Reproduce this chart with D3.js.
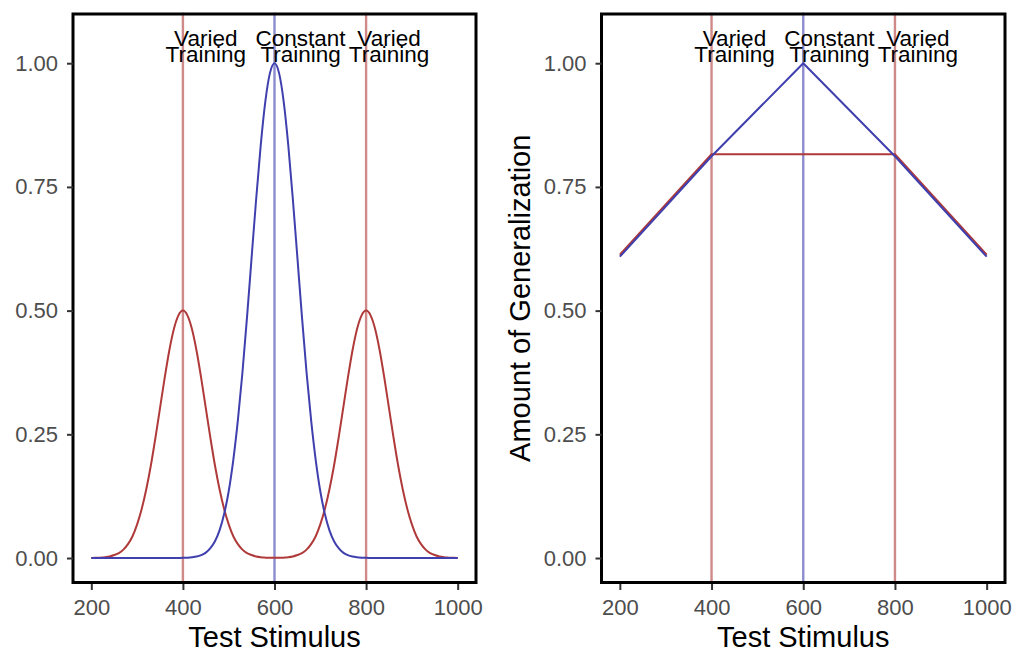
<!DOCTYPE html>
<html>
<head>
<meta charset="utf-8">
<script src="https://cdn.jsdelivr.net/npm/d3@7"></script>
<style>
  html, body { margin: 0; padding: 0; background: #ffffff; }
  svg { display: block; font-family: "Liberation Sans", Arial, Helvetica, sans-serif; }
</style>
</head>
<body>
<svg id="chart" width="1014" height="651"></svg>
<script>
// ---------- data ----------
// Left panel: sampled generalization gradients (test stimulus 200..1000, step 10)
const gradientStimulus = [
  200,210,220,230,240,250,260,270,280,290,300,310,320,330,340,350,360,370,380,390,
  400,410,420,430,440,450,460,470,480,490,500,510,520,530,540,550,560,570,580,590,
  600,610,620,630,640,650,660,670,680,690,700,710,720,730,740,750,760,770,780,790,
  800,810,820,830,840,850,860,870,880,890,900,910,920,930,940,950,960,970,980,990,1000
];
const constantGradient = [
  0,0,0,0,0,0,0,0,0,0,0,0,0,0,0,0,0,0,0.0001,0.0002,
  0.0003,0.0007,0.0015,0.003,0.006,0.011,0.020,0.034,0.056,0.089,0.135,0.198,0.278,0.375,0.487,0.607,0.726,0.835,0.923,0.980,
  1.000,0.980,0.923,0.835,0.726,0.607,0.487,0.375,0.278,0.198,0.135,0.089,0.056,0.034,0.020,0.011,0.006,0.003,0.0015,0.0007,
  0.0003,0.0002,0.0001,0,0,0,0,0,0,0,0,0,0,0,0,0,0,0,0,0,0
];
const variedGradient = [
  0.0002,0.0004,0.0008,0.0015,0.003,0.006,0.010,0.017,0.028,0.044,0.068,0.099,0.139,0.187,0.243,0.303,0.363,0.418,0.462,0.490,
  0.500,0.490,0.462,0.418,0.363,0.303,0.243,0.187,0.139,0.099,0.068,0.044,0.028,0.017,0.010,0.006,0.003,0.0015,0.0008,0.0004,
  0.0003,0.0004,0.0008,0.0015,0.003,0.006,0.010,0.017,0.028,0.044,0.068,0.099,0.139,0.187,0.243,0.303,0.363,0.418,0.462,0.490,
  0.500,0.490,0.462,0.418,0.363,0.303,0.243,0.187,0.139,0.099,0.068,0.044,0.028,0.017,0.010,0.006,0.003,0.0015,0.0008,0.0004,0.0002
];
// Right panel: generalization at the five test stimuli
const testStimulus = [200, 400, 600, 800, 1000];
const constantGeneralization = [0.609, 0.812, 1.0, 0.812, 0.609];
const variedGeneralization   = [0.613, 0.816, 0.816, 0.816, 0.613];

// Training locations and labels
const variedTraining = [400, 800];
const constantTraining = [600];
const trainingLabels = [
  { x: 450, lines: ["Varied", "Training"] },
  { x: 657, lines: ["Constant", "Training"] },
  { x: 850, lines: ["Varied", "Training"] }
];

const xTicks = [200, 400, 600, 800, 1000];
const xTickLabels = ["200", "400", "600", "800", "1000"];
const yTicks = [0, 0.25, 0.5, 0.75, 1.0];
const yTickLabels = ["0.00", "0.25", "0.50", "0.75", "1.00"];
const xTitle = "Test Stimulus";
const yTitle = "Amount of Generalization";

// ---------- drawing ----------
const RED = "#b03a3a";
const BLUE = "#3f3fae";
const svg = d3.select("#chart");

const panels = [
  { left: 73, right: 476, series: [
      { x: gradientStimulus, y: variedGradient, color: RED },
      { x: gradientStimulus, y: constantGradient, color: BLUE } ],
    curve: d3.curveMonotoneX, yTitle: false },
  { left: 601.5, right: 1005, series: [
      { x: testStimulus, y: variedGeneralization, color: RED },
      { x: testStimulus, y: constantGeneralization, color: BLUE } ],
    curve: d3.curveLinear, yTitle: true }
];

const panelTop = 12.5, panelBottom = 584;
const TICK_FONT = 22, TITLE_FONT = 29, LABEL_FONT = 22.5;

panels.forEach(p => {
  const x = d3.scaleLinear().domain([160, 1040]).range([p.left, p.right]);
  const y = d3.scaleLinear().domain([-0.0525, 1.1025]).range([panelBottom, panelTop]);
  const g = svg.append("g");

  const clipId = "clip" + Math.round(p.left);
  svg.append("clipPath").attr("id", clipId)
    .append("rect").attr("x", p.left).attr("y", panelTop)
    .attr("width", p.right - p.left).attr("height", panelBottom - panelTop);

  const plot = g.append("g").attr("clip-path", `url(#${clipId})`);

  variedTraining.forEach(v => {
    plot.append("line").attr("x1", x(v)).attr("x2", x(v)).attr("y1", panelTop).attr("y2", panelBottom)
      .attr("stroke", RED).attr("stroke-opacity", 0.6).attr("stroke-width", 2.4);
  });
  constantTraining.forEach(v => {
    plot.append("line").attr("x1", x(v)).attr("x2", x(v)).attr("y1", panelTop).attr("y2", panelBottom)
      .attr("stroke", BLUE).attr("stroke-opacity", 0.6).attr("stroke-width", 2.4);
  });

  p.series.forEach(s => {
    const pts = s.x.map((xv, i) => [xv, s.y[i]]);
    plot.append("path").datum(pts)
      .attr("fill", "none").attr("stroke", s.color).attr("stroke-width", 2)
      .attr("stroke-linejoin", "round")
      .attr("d", d3.line().x(d => x(d[0])).y(d => y(d[1])).curve(p.curve));
  });

  trainingLabels.forEach(l => {
    const t = plot.append("text").attr("x", x(l.x)).attr("y", y(1.034))
      .attr("text-anchor", "middle").attr("font-size", LABEL_FONT).attr("fill", "#000");
    l.lines.forEach((ln, i) => {
      t.append("tspan").attr("x", x(l.x)).attr("dy", i === 0 ? 0 : 15.5).text(ln);
    });
  });

  g.append("rect").attr("x", p.left).attr("y", panelTop + 1.5)
    .attr("width", p.right - p.left).attr("height", panelBottom - panelTop - 3)
    .attr("fill", "none").attr("stroke", "#000").attr("stroke-width", 3);

  const xAxis = d3.axisBottom(x).tickValues(xTicks)
    .tickFormat((d, i) => xTickLabels[i]).tickSize(6).tickPadding(9);
  const xg = g.append("g").attr("transform", `translate(0,${panelBottom})`).call(xAxis);
  xg.select(".domain").remove();
  xg.selectAll(".tick line").attr("stroke", "#333").attr("stroke-width", 2);
  xg.selectAll(".tick text").attr("fill", "#4d4d4d").attr("font-size", TICK_FONT)
    .attr("font-family", "Liberation Sans, Arial, sans-serif");

  const yAxis = d3.axisLeft(y).tickValues(yTicks)
    .tickFormat((d, i) => yTickLabels[i]).tickSize(6).tickPadding(9);
  const yg = g.append("g").attr("transform", `translate(${p.left},0)`).call(yAxis);
  yg.select(".domain").remove();
  yg.selectAll(".tick line").attr("stroke", "#333").attr("stroke-width", 2);
  yg.selectAll(".tick text").attr("fill", "#4d4d4d").attr("font-size", TICK_FONT)
    .attr("font-family", "Liberation Sans, Arial, sans-serif");

  g.append("text").attr("x", (p.left + p.right) / 2).attr("y", 647)
    .attr("text-anchor", "middle").attr("font-size", TITLE_FONT).attr("fill", "#000").text(xTitle);
  if (p.yTitle) {
    g.append("text").attr("transform", `translate(530,${(panelTop + panelBottom) / 2}) rotate(-90)`)
      .attr("text-anchor", "middle").attr("font-size", TITLE_FONT).attr("fill", "#000").text(yTitle);
  }
});
</script>
</body>
</html>
